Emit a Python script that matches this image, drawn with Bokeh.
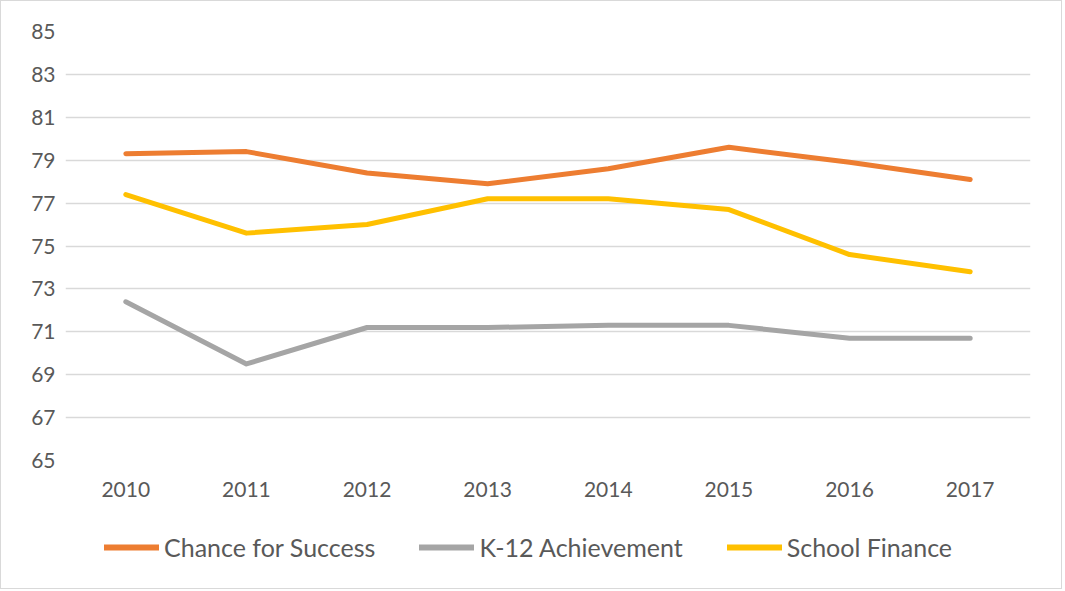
from bokeh.plotting import figure
from bokeh.models import Legend, LegendItem, FixedTicker, Range1d, FactorRange
from bokeh.layouts import column
from bokeh.embed import file_html
from bokeh.resources import INLINE

years = ["2010", "2011", "2012", "2013", "2014", "2015", "2016", "2017"]
chance_for_success = [79.3, 79.4, 78.4, 77.9, 78.6, 79.6, 78.9, 78.1]
k12_achievement = [72.4, 69.5, 71.2, 71.2, 71.3, 71.3, 70.7, 70.7]
school_finance = [77.4, 75.6, 76.0, 77.2, 77.2, 76.7, 74.6, 73.8]
series_names = ["Chance for Success", "K-12 Achievement", "School Finance"]
y_ticks = [65, 67, 69, 71, 73, 75, 77, 79, 81, 83, 85]

FONT = "Lato"
TXT = "#595959"
COLORS = ["#ED7D31", "#A5A5A5", "#FFC000"]
SERIES = [chance_for_success, k12_achievement, school_finance]

p = figure(x_range=years, y_range=Range1d(65, 85), frame_width=965, frame_height=429,
           output_backend="svg", toolbar_location=None,
           min_border_left=64, min_border_right=31, min_border_top=30, min_border_bottom=60)
p.outline_line_color = None
p.background_fill_color = "white"
p.border_fill_color = "white"

p.xgrid.grid_line_color = None
p.ygrid.grid_line_color = "#D9D9D9"
p.ygrid.grid_line_width = 1.3
p.yaxis.ticker = FixedTicker(ticks=y_ticks)

for ax in (p.xaxis, p.yaxis):
    ax.axis_line_color = None
    ax.major_tick_line_color = None
    ax.minor_tick_line_color = None
    ax.major_label_text_font = FONT
    ax.major_label_text_font_size = "21px"
    ax.major_label_text_color = TXT
p.xaxis.major_tick_out = 0
p.yaxis.major_tick_out = 0
p.xaxis.major_label_standoff = 21
p.yaxis.major_label_standoff = 10

for vals, c in zip(SERIES, COLORS):
    p.line(years, vals, line_color=c, line_width=5, line_cap="round", line_join="round")

# legend strip below the chart (its lines lie outside its own visible range)
p2 = figure(width=1060, height=68, x_range=FactorRange(*years), y_range=Range1d(0, 1),
            output_backend="svg", toolbar_location=None,
            x_axis_location=None, y_axis_location=None, min_border=0)
p2.outline_line_color = None
p2.xgrid.grid_line_color = None
p2.ygrid.grid_line_color = None
p2.border_fill_color = "white"
items = []
for name, vals, c in zip(series_names, SERIES, COLORS):
    r = p2.line(years, vals, line_color=c, line_width=6, line_cap="round")
    items.append(LegendItem(label=name, renderers=[r]))

legend = Legend(items=items, orientation="horizontal", location=(39, 26),
                border_line_color=None, background_fill_alpha=0,
                padding=0, spacing=44, label_standoff=5, glyph_width=55,
                glyph_height=26, label_height=26, label_text_font=FONT, label_text_font_size="25px",
                label_text_color=TXT, margin=0)
p2.add_layout(legend, "center")

layout = column(p, p2, spacing=0, styles={"border": "1px solid #D9D9D9"})
open("out.html", "w").write(file_html(layout, INLINE))
